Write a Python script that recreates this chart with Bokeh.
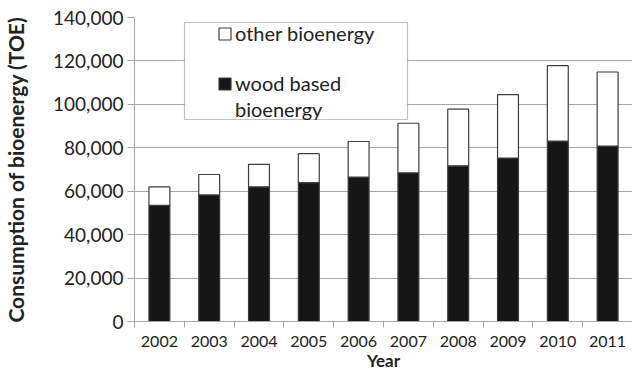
from bokeh.plotting import figure
from bokeh.models import (Range1d, FixedTicker, NumeralTickFormatter,
                          Legend, LegendItem, BoxAnnotation, ColumnDataSource)
from bokeh.embed import file_html
from bokeh.resources import INLINE

years = [2002, 2003, 2004, 2005, 2006, 2007, 2008, 2009, 2010, 2011]
wood_based = [53500, 58300, 62000, 64000, 66500, 68500, 71700, 75300, 83100, 80800]
other_bio = [8500, 9400, 10400, 13300, 16400, 22800, 26100, 29200, 34700, 34100]
y_ticks = [0, 20000, 40000, 60000, 80000, 100000, 120000, 140000]

xs = [i + 0.5 for i in range(len(years))]
src = ColumnDataSource(dict(x=xs, wood=wood_based, other=other_bio))

GRAY = "#a6a6a6"
TXT = "#222222"
FONT = "Lato"

p = figure(width=632, height=373, output_backend="svg", toolbar_location=None,
           x_range=Range1d(0, len(years)), y_range=Range1d(y_ticks[0], y_ticks[-1]),
           min_border_left=132, min_border_right=0, min_border_top=17, min_border_bottom=50)
p.outline_line_color = None
p.background_fill_color = "white"
p.border_fill_color = "white"

rs = p.vbar_stack(["wood", "other"], x="x", width=0.42, source=src,
                  fill_color=["#161616", "white"], line_color="#3c3c3c", line_width=1.2)

# grid
p.xgrid.visible = False
p.ygrid.grid_line_color = GRAY
p.ygrid.grid_line_width = 1

# x axis
p.xaxis.ticker = FixedTicker(ticks=xs, minor_ticks=list(range(len(years) + 1)))
p.xaxis.major_label_overrides = {x: str(y) for x, y in zip(xs, years)}
p.xaxis.major_tick_in = 0
p.xaxis.major_tick_out = 0
p.xaxis.minor_tick_in = 0
p.xaxis.minor_tick_out = 6
p.xaxis.minor_tick_line_color = GRAY
p.xaxis.axis_line_color = GRAY
p.xaxis.major_label_standoff = 8
p.xaxis.axis_label = "Year"
p.xaxis.axis_label_standoff = 0
p.xaxis.major_label_text_font_size = "16px"
p.xaxis.axis_label_text_font_size = "17px"

# y axis
p.yaxis.ticker = FixedTicker(ticks=y_ticks)
p.yaxis.formatter = NumeralTickFormatter(format="0,0")
p.yaxis.major_tick_in = 0
p.yaxis.major_tick_out = 7
p.yaxis.major_tick_line_color = GRAY
p.yaxis.minor_tick_line_color = None
p.yaxis.axis_line_color = GRAY
p.yaxis.major_label_standoff = 4
p.yaxis.axis_label = "Consumption of bioenergy (TOE)"
p.yaxis.axis_label_standoff = 22
p.yaxis.major_label_text_font_size = "19px"
p.yaxis.axis_label_text_font_size = "21px"

for ax in (p.xaxis[0], p.yaxis[0]):
    ax.major_label_text_font = FONT
    ax.major_label_text_color = TXT
    ax.axis_label_text_font = FONT
    ax.axis_label_text_font_style = "bold"
    ax.axis_label_text_color = TXT

# legend frame
box = BoxAnnotation(left=184, right=407, top=22, bottom=119,
                    left_units="canvas", right_units="canvas", top_units="canvas", bottom_units="canvas",
                    fill_color="white", fill_alpha=1, line_color="#333333", line_width=1.2)
p.add_layout(box)

common = dict(padding=0, spacing=0, margin=0, glyph_width=15, glyph_height=15, label_standoff=3,
              label_height=26, border_line_color=None, background_fill_alpha=0,
              label_text_font=FONT, label_text_font_size="20px", label_text_color=TXT)

legend_a = Legend(items=[LegendItem(label="other bioenergy", renderers=[rs[1]])],
                  location=(83, 275), **common)
legend_b = Legend(items=[LegendItem(label="wood based", renderers=[rs[0]]),
                         LegendItem(label="bioenergy", renderers=[])],
                  location=(83, 199), **common)
p.add_layout(legend_a, "center")
p.add_layout(legend_b, "center")

open("out.html", "w").write(file_html(p, INLINE))
